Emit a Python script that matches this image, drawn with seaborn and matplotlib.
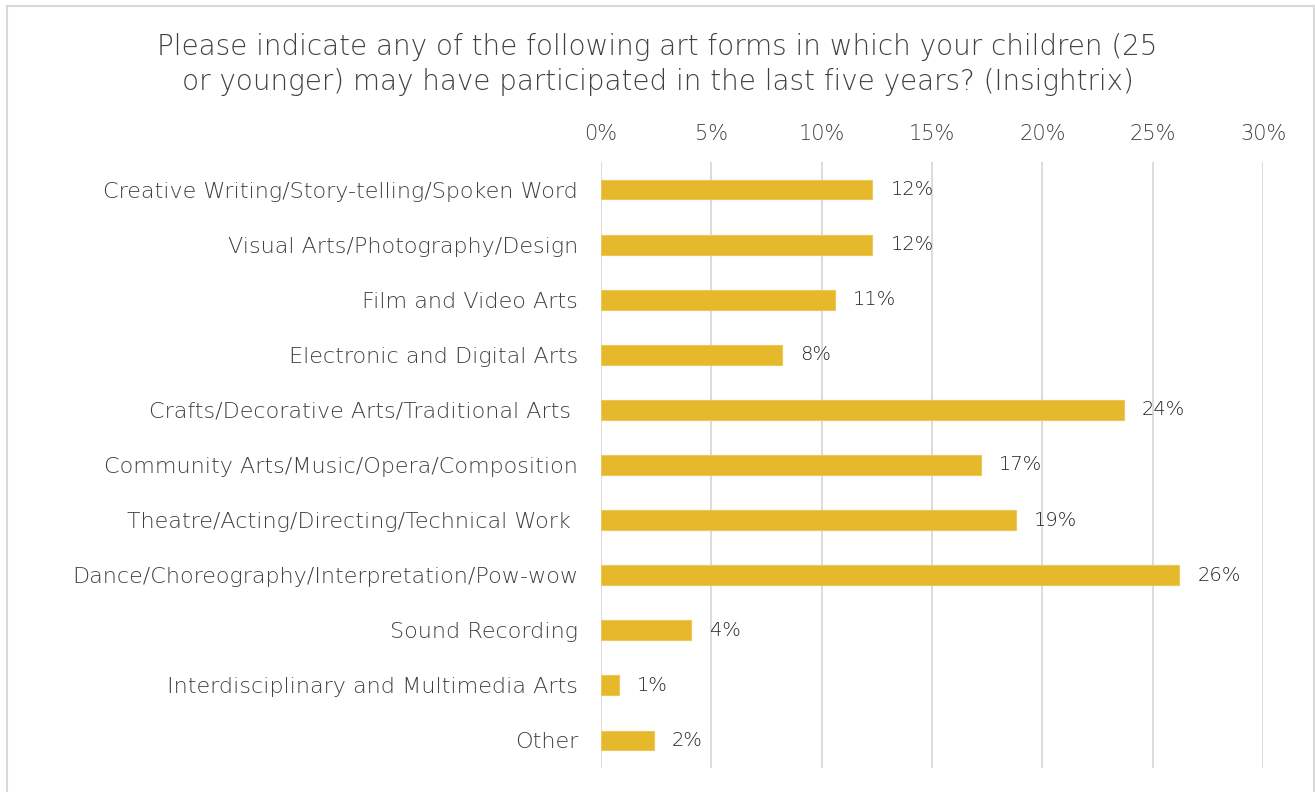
import matplotlib
matplotlib.use("Agg")
import matplotlib.pyplot as plt
import matplotlib.patches as mpatches
import seaborn as sns
import pandas as pd

categories = [
    "Creative Writing/Story-telling/Spoken Word",
    "Visual Arts/Photography/Design",
    "Film and Video Arts",
    "Electronic and Digital Arts",
    "Crafts/Decorative Arts/Traditional Arts ",
    "Community Arts/Music/Opera/Composition",
    "Theatre/Acting/Directing/Technical Work ",
    "Dance/Choreography/Interpretation/Pow-wow",
    "Sound Recording",
    "Interdisciplinary and Multimedia Arts",
    "Other",
]
shares = [12.3, 12.3, 10.6, 8.2, 23.7, 17.2, 18.8, 26.2, 4.1, 0.8, 2.4]
x_ticks = [0, 5, 10, 15, 20, 25, 30]
title = ("Please indicate any of the following art forms in which your children (25\n"
         "or younger) may have participated in the last five years? (Insightrix)")

sns.set_theme(style="white")
plt.rcParams["font.family"] = ["DejaVu Sans"]
plt.rcParams["font.weight"] = "light"

df = pd.DataFrame({"category": categories, "share": shares})

W, H = 1315, 792
fig = plt.figure(figsize=(W / 100, H / 100), dpi=100)
fig.patch.set_facecolor("white")
ax = fig.add_axes([601 / W, 1 - 768 / H, (1263 - 601) / W, (768 - 162) / H])

bar_color = "#E6B82B"
sns.barplot(data=df, y="category", x="share", orient="h", color=bar_color,
            width=0.36, ax=ax, saturation=1, edgecolor="#EDC75A", linewidth=0.8)

ax.set_xlim(0, 30)
ax.set_ylim(len(categories) - 0.5, -0.5)
ax.set_xticks(x_ticks)
ax.set_xticklabels([f"{t}%" for t in x_ticks])
ax.xaxis.tick_top()
ax.xaxis.set_label_position("top")
ax.set_xlabel("")
ax.set_ylabel("")
ax.grid(axis="x", color="#D9D9D9", linewidth=1.3)
ax.set_axisbelow(True)
for s in ax.spines.values():
    s.set_visible(False)
ax.tick_params(axis="x", length=0, pad=13, labelsize=15, colors="#404040")
ax.tick_params(axis="y", length=0, pad=16.5, labelsize=16, colors="#404040")

for i, v in enumerate(shares):
    ax.annotate(f"{v:.0f}%", xy=(v, i), xytext=(13, 0), textcoords="offset points",
                ha="left", va="center", fontsize=14, color="#262626")

fig.text(0.5, 1 - 64.5 / H, title, ha="center", va="center", fontsize=20,
         color="#404040", linespacing=1.3)

border = mpatches.Rectangle((7 / W, -0.02), (1314 - 7) / W, 1 - 6 / H + 0.02,
                            transform=fig.transFigure, fill=False,
                            edgecolor="#D9D9D9", linewidth=1.5)
fig.patches.append(border)

fig.savefig("out.png", dpi=100)
